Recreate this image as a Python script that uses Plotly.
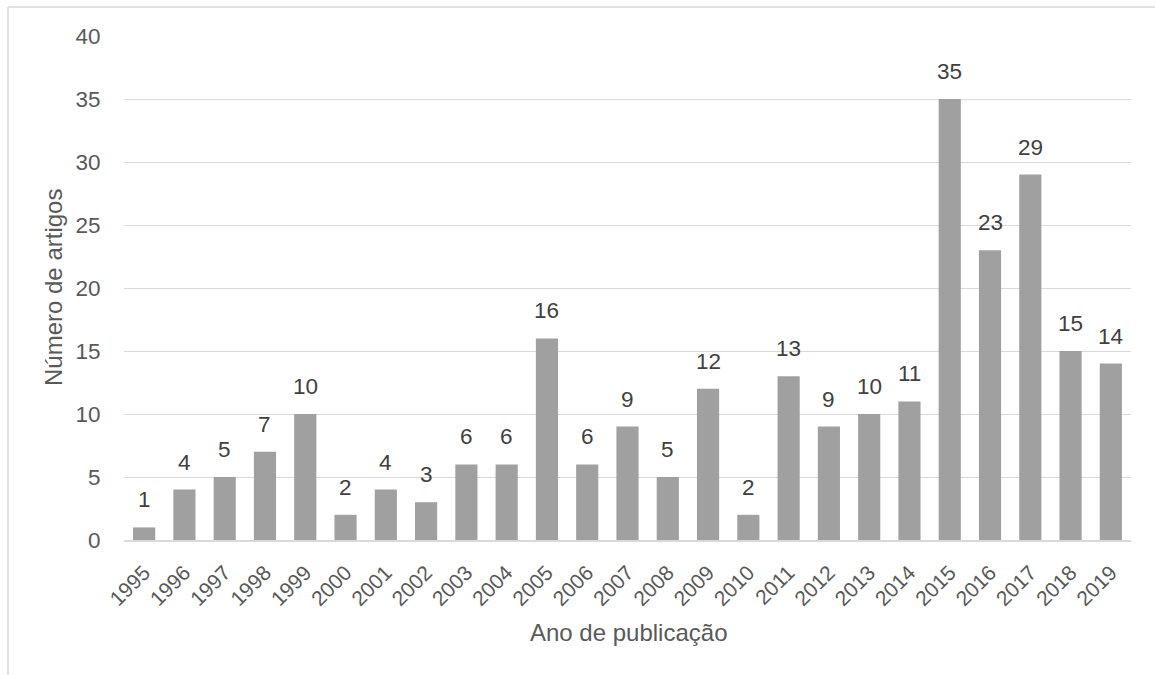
import plotly.graph_objects as go

# Publication counts per year
anos = [str(a) for a in range(1995, 2020)]
artigos = [1, 4, 5, 7, 10, 2, 4, 3, 6, 6, 16, 6, 9, 5, 12, 2, 13, 9, 10, 11, 35, 23, 29, 15, 14]

y_ticks = [0, 5, 10, 15, 20, 25, 30, 35, 40]

FONT = "Liberation Sans, Arial, sans-serif"
W, H = 1155, 675
ML, MR, MT, MB = 124, 24, 36, 135
PW, PH = W - ML - MR, H - MT - MB


def px_x(x):
    return (x - ML) / PW


def px_y(y):
    return (H - MB - y) / PH


fig = go.Figure()
fig.add_trace(go.Bar(
    x=anos,
    y=artigos,
    marker=dict(color="#a0a0a0", line=dict(width=0)),
    hoverinfo="x+y",
))

# Value labels above each bar (x given as category index)
annotations = [
    dict(x=i, y=v, xref="x", yref="y", text=str(v), showarrow=False,
         yanchor="bottom", yshift=13,
         font=dict(family=FONT, size=22.5, color="#404040"))
    for i, v in enumerate(artigos)
]
annotations += [
    dict(x=px_x(628), y=px_y(632), xref="paper", yref="paper",
         text="Ano de publicação", showarrow=False,
         xanchor="center", yanchor="middle",
         font=dict(family=FONT, size=24, color="#595959")),
    dict(x=px_x(53), y=px_y(288), xref="paper", yref="paper",
         text="Número de artigos", showarrow=False, textangle=-90,
         xanchor="center", yanchor="middle",
         font=dict(family=FONT, size=24, color="#595959")),
]

# Chart frame (top and left edges)
shapes = [
    dict(type="line", xref="paper", yref="paper",
         x0=px_x(8), x1=px_x(W + 5), y0=px_y(7), y1=px_y(7),
         line=dict(color="#d9d9d9", width=1.5)),
    dict(type="line", xref="paper", yref="paper",
         x0=px_x(8), x1=px_x(8), y0=px_y(7), y1=px_y(H + 5),
         line=dict(color="#d9d9d9", width=1.5)),
]

fig.update_layout(
    width=W, height=H,
    margin=dict(l=ML, r=MR, t=MT, b=MB),
    paper_bgcolor="white",
    plot_bgcolor="white",
    bargap=0.45,
    showlegend=False,
    font=dict(family=FONT, color="#595959"),
    annotations=annotations,
    shapes=shapes,
    xaxis=dict(
        type="category",
        range=[-0.5, len(anos) - 0.5],
        tickangle=-45,
        tickfont=dict(family=FONT, size=21, color="#595959"),
        showgrid=False,
        showline=True,
        linecolor="#d9d9d9",
        linewidth=2,
        ticks="outside",
        ticklen=10,
        tickcolor="rgba(0,0,0,0)",
    ),
    yaxis=dict(
        range=[0, 40],
        tickvals=y_ticks,
        tickfont=dict(family=FONT, size=22.5, color="#595959"),
        showgrid=True,
        gridcolor="#d9d9d9",
        gridwidth=1,
        zeroline=False,
        showline=False,
        ticks="outside",
        ticklen=18,
        tickcolor="rgba(0,0,0,0)",
    ),
)

fig.write_html("out.html")
